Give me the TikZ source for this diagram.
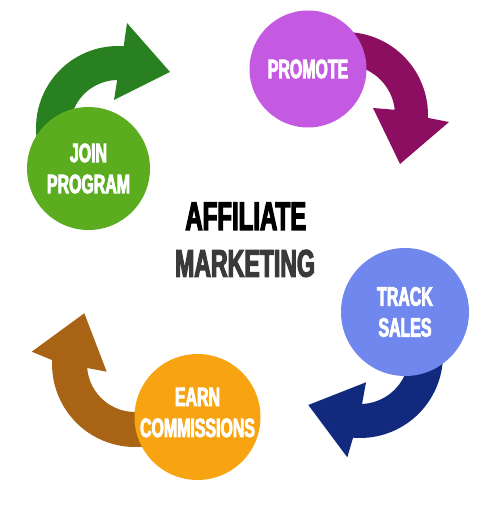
\documentclass[tikz,border=0pt]{standalone}
\usepackage{fontspec}
\usetikzlibrary{calc}
\newfontfamily\hd[FakeStretch=0.6,FakeBold=3]{Liberation Sans}
\definecolor{gcirc}{RGB}{91,172,30}
\definecolor{garr}{RGB}{40,128,32}
\definecolor{pcirc}{RGB}{196,90,226}
\definecolor{parr}{RGB}{140,14,96}
\definecolor{bcirc}{RGB}{112,136,238}
\definecolor{barr}{RGB}{18,42,125}
\definecolor{ocirc}{RGB}{248,164,18}
\definecolor{oarr}{RGB}{168,100,20}
\definecolor{darkgray}{RGB}{58,58,58}
\begin{document}
\begin{tikzpicture}[x=1pt,y=1pt,
  disc/.style={circle,inner sep=0pt,draw=none},
  lbl/.style={text=white,align=center,font=\hd\bfseries\fontsize{26.5}{31}\selectfont,inner sep=0pt},
  title/.style={font=\hd\bfseries\fontsize{40}{44}\selectfont,inner sep=0pt,anchor=base}]
\fill[white] (0,0) rectangle (487,512);
\useasboundingbox (0,0) rectangle (487,512);
% arrow centres
\coordinate (gC) at (118,384);
\coordinate (pC) at (345,397);
\coordinate (bC) at (360,157);
\coordinate (oC) at (135,148);
% green arrow
\fill[garr] ($(gC)+(200:82pt)$) arc[start angle=200,end angle=86,radius=82pt]
  -- (127,489) -- (170,440) -- (114,412)
  -- ($(gC)+(91:48pt)$) arc[start angle=91,end angle=200,radius=48pt] -- cycle;
% purple arrow
\fill[parr] ($(pC)+(100:83pt)$) arc[start angle=100,end angle=-2,radius=83pt]
  -- (449,390) -- (400,348) -- (373,404)
  -- ($(pC)+(6:50pt)$) arc[start angle=6,end angle=100,radius=50pt] -- cycle;
% blue arrow
\fill[barr] ($(bC)+(20:83pt)$) arc[start angle=20,end angle=-94.8,radius=83pt]
  -- (347.3,54.7) -- (308.3,107) -- (366,129.7)
  -- ($(bC)+(-87.6:49pt)$) arc[start angle=-87.6,end angle=20,radius=49pt] -- cycle;
% brown arrow
\fill[oarr] ($(oC)+(300:83pt)$) arc[start angle=300,end angle=177.3,radius=83pt]
  -- (31.7,160.3) -- (84.3,198.7) -- (106.7,140.3)
  -- ($(oC)+(184.8:48pt)$) arc[start angle=184.8,end angle=300,radius=48pt] -- cycle;
% circles
\node[disc,fill=gcirc,minimum size=123pt] (join) at (88.5,343.5) {};
\node[disc,fill=pcirc,minimum size=117pt] (promote) at (308,443) {};
\node[disc,fill=bcirc,minimum size=128pt] (track) at (405,200) {};
\node[disc,fill=ocirc,minimum size=126pt] (earn) at (197.5,95) {};
% labels
\node[lbl] (joint) at (join.center) {JOIN\\PROGRAM};
\node[lbl] (promotet) at (promote.center) {PROMOTE};
\node[lbl] (trackt) at (track.center) {TRACK\\SALES};
\node[lbl] (earnt) at ($(earn.center)+(0,4.5)$) {EARN\\COMMISSIONS};
% centre title
\node[title,text=black] (t1) at (245.8,282) {AFFILIATE};
\node[title,text=darkgray,font=\hd\bfseries\fontsize{38.5}{42}\selectfont] (t2) at (245,235.3) {MARKETING};
\end{tikzpicture}
\end{document}
